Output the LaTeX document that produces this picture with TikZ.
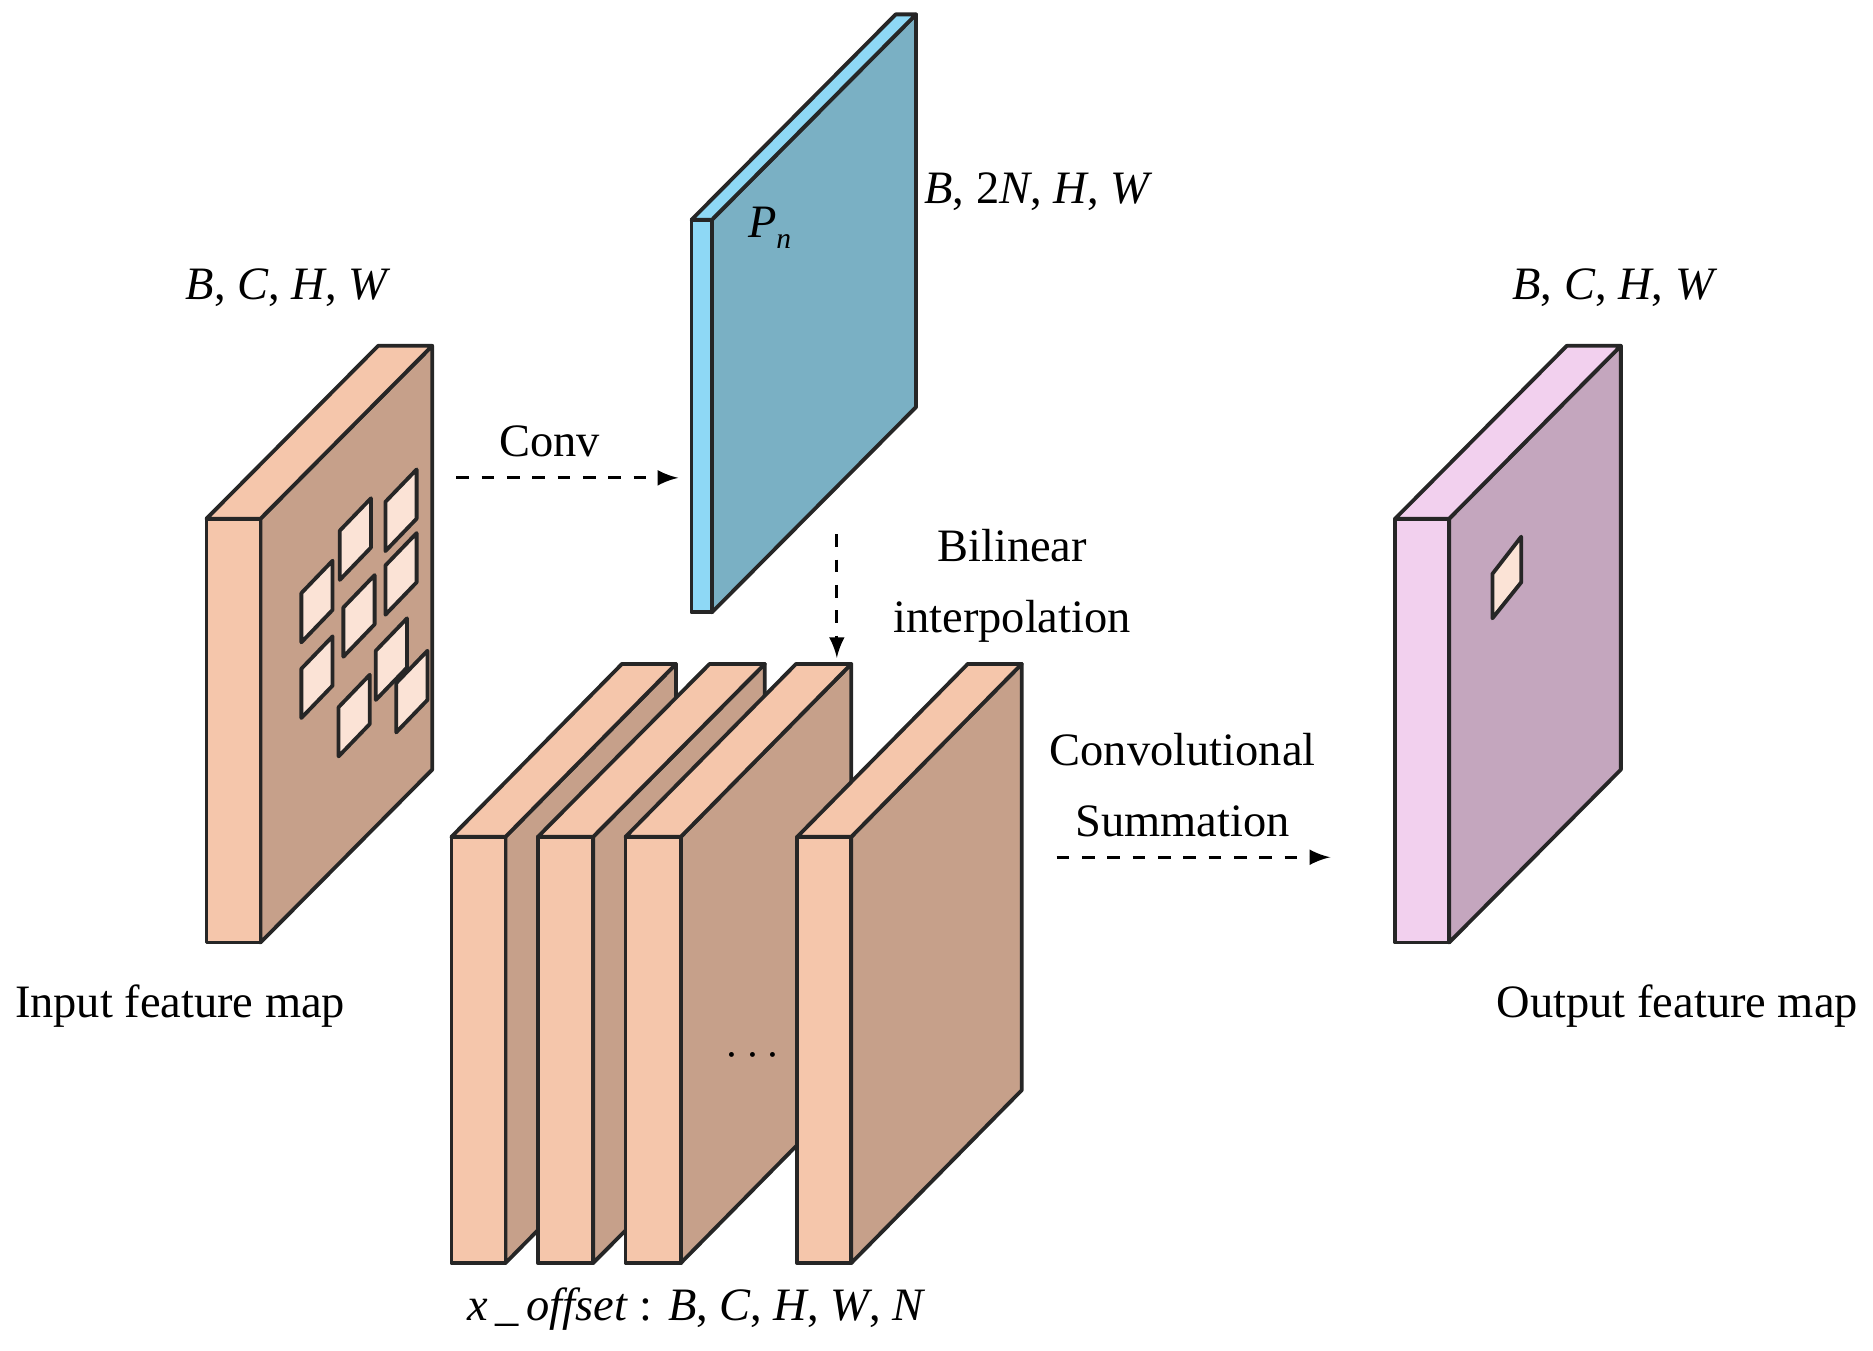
\documentclass[tikz,border=0pt]{standalone}
\usepackage{fontspec}
\setmainfont{Liberation Serif}
\begin{document}
\begin{tikzpicture}[x=0.01cm,y=-0.01cm,
  edge/.style={draw=black!85,line width=0.9pt,line join=round},
  lbl/.style={font=\fontsize{11}{13}\selectfont,inner sep=0pt},
  arr/.style={dashed,-latex,line width=0.7pt},
  cell/.style={edge,fill=cellc}]
\definecolor{pf}{HTML}{F5C6AB}\definecolor{pr}{HTML}{C6A08A}
\definecolor{bf}{HTML}{8ED8F5}\definecolor{br}{HTML}{7AB0C4}
\definecolor{vf}{HTML}{F2D0EE}\definecolor{vr}{HTML}{C4A6BE}
\definecolor{cellc}{HTML}{FBE3D6}
\useasboundingbox (0,0) rectangle (1560,1125);
% #1 x1, #2 x2, #3 ytop, #4 ybot, #5 dx, #6 dy, #7 front, #8 side
\newcommand\slab[8]{%
  \draw[edge,fill=#8] (#2,#3) -- ++(#5,-#6) -- ++(0,#4-#3) -- (#2,#4) -- cycle;
  \draw[edge,fill=#7] (#1,#3) -- ++(#5,-#6) -- ++(#2-#1,0) -- (#2,#3) -- cycle;
  \draw[edge,fill=#7] (#1,#3) rectangle (#2,#4);}
\newcommand\cellp[2]{\draw[cell] (#1,#2) -- ++(26,-27) -- ++(0,41) -- ++(-26,27) -- cycle;}
\newcommand\dims[1]{\textit{#1}}
% input
\slab{172}{217}{432}{785}{143}{144}{pf}{pr}
\cellp{251}{494}\cellp{283}{442}\cellp{321}{418}\cellp{321}{471}\cellp{286}{506}
\cellp{251}{557}\cellp{313}{542}\cellp{282}{589}\cellp{330}{569}
% blue
\slab{576}{593}{183}{510}{170}{171}{bf}{br}
% stack
\slab{376}{421}{697}{1052}{142}{144}{pf}{pr}
\slab{448}{494}{697}{1052}{143}{144}{pf}{pr}
\slab{521}{567}{697}{1052}{142}{144}{pf}{pr}
\slab{664}{709}{697}{1052}{142}{144}{pf}{pr}
% output
\slab{1162}{1207}{432}{785}{143}{144}{vf}{vr}
\draw[cell] (1243,478) -- (1267,447) -- (1267,485) -- (1243,515) -- cycle;
% labels
\node[lbl] (pn) at (641,190) {\dims{P}\raisebox{-0.5ex}{\scriptsize\textit{n}}};
\node[lbl] (d2) at (865,160) {\dims{B}, 2\dims{N}, \dims{H}, \dims{W}};
\node[lbl] (d1) at (240,240) {\dims{B}, \dims{C}, \dims{H}, \dims{W}};
\node[lbl] (d3) at (1345,240) {\dims{B}, \dims{C}, \dims{H}, \dims{W}};
\node[lbl] (conv) at (458,368) {Conv};
\node[lbl,align=center] (bil) at (843,488) {Bilinear\\[4pt]interpolation};
\node[lbl,align=center] (cs) at (985,654) {Convolutional\\[4pt]Summation};
\node[lbl] (dots) at (627,880) {$\cdots$};
\node[lbl] (xo) at (580,1090) {\textit{x\,\_\,offset} : \dims{B}, \dims{C}, \dims{H}, \dims{W}, \dims{N}};
\node[lbl] (in) at (150,838) {Input feature map};
\node[lbl] (out) at (1397,838) {Output feature map};
% arrows
\coordinate (a1) at (380,398); \coordinate (a2) at (565,398);
\coordinate (b1) at (697,445); \coordinate (b2) at (697,548);
\coordinate (c1) at (880,714); \coordinate (c2) at (1108,714);
\draw[arr] (a1) -- (a2);
\draw[arr] (b1) -- (b2);
\draw[arr] (c1) -- (c2);
\end{tikzpicture}
\end{document}
